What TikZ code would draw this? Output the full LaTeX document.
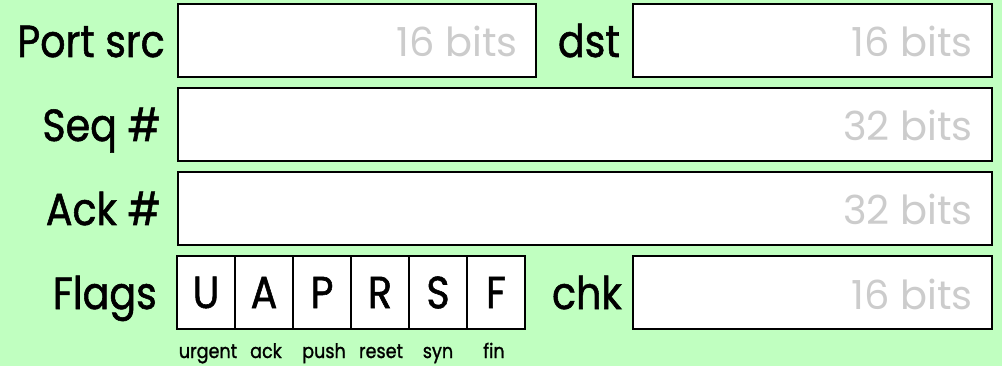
\documentclass[tikz,border=0pt]{standalone}
\usepackage{fontspec}
\setmainfont{Poppins}[FakeStretch=0.88,FakeBold=1.2]
\newfontfamily\bitsfont{Poppins}
\usetikzlibrary{calc}
\definecolor{bggreen}{RGB}{192,255,192}
\definecolor{bitgray}{RGB}{204,204,204}
\begin{document}
\begin{tikzpicture}[x=1pt,y=-1pt,
  field/.style={draw=black, line width=2pt, fill=white, anchor=north west, minimum height=73pt, inner sep=0pt, outer sep=0pt},
  lab/.style={anchor=base east, inner sep=0pt, font=\fontsize{45}{50}\selectfont},
  bits/.style={anchor=base east, inner sep=0pt, text=bitgray, font=\bitsfont\fontsize{40}{48}\selectfont},
  flagcell/.style={draw=black, line width=2pt, fill=white, anchor=north west, minimum width=58pt, minimum height=73pt, inner sep=0pt, outer sep=0pt, font=\fontsize{45}{50}\selectfont},
  sub/.style={anchor=base, inner sep=0pt, font=\fontsize{20}{24}\selectfont}]
\fill[bggreen] (0,0) rectangle (1002,366);
\useasboundingbox (0,0) rectangle (1002,366);
% row 1
\node[field, minimum width=358pt] (src) at (178,4) {};
\node[field, minimum width=359pt] (dst) at (633,4) {};
\node[lab] (lsrc) at ($(src.west)+(-13,16.5)$) {Port src};
\node[lab] (ldst) at ($(dst.west)+(-13,16.5)$) {dst};
\node[bits] (bsrc) at ($(src.east)+(-18,16.5)$) {16 bits};
\node[bits] (bdst) at ($(dst.east)+(-19,16.5)$) {16 bits};
% row 2
\node[field, minimum width=814pt] (seq) at (178,88) {};
\node[lab] (lseq) at ($(seq.west)+(-17,16.5)$) {Seq \#};
\node[bits] (bseq) at ($(seq.east)+(-19,16.5)$) {32 bits};
% row 3
\node[field, minimum width=814pt] (ack) at (178,172) {};
\node[lab] (lack) at ($(ack.west)+(-17,16.5)$) {Ack \#};
\node[bits] (back) at ($(ack.east)+(-19,16.5)$) {32 bits};
% row 4
\node[flagcell] (fu) at (177,256) {U};
\node[flagcell] (fa) at (fu.north east) {A};
\node[flagcell] (fp) at (fa.north east) {P};
\node[flagcell] (fr) at (fp.north east) {R};
\node[flagcell] (fs) at (fr.north east) {S};
\node[flagcell] (ff) at (fs.north east) {F};
\node[lab] (lflags) at ($(fu.west)+(-20,16.5)$) {Flags};
\node[field, minimum width=359pt] (chk) at (633,256) {};
\node[lab] (lchk) at ($(chk.west)+(-11,16.5)$) {chk};
\node[bits] (bchk) at ($(chk.east)+(-19,16.5)$) {16 bits};
% flag names
\node[sub] (su) at ($(fu.south)+(2,29)$) {urgent};
\node[sub] (sa) at ($(fa.south)+(2,29)$) {ack};
\node[sub] (sp) at ($(fp.south)+(2,29)$) {push};
\node[sub] (sr) at ($(fr.south)+(1,29)$) {reset};
\node[sub] (ss) at ($(fs.south)+(0,29)$) {syn};
\node[sub] (sf) at ($(ff.south)+(-2,29)$) {fin};
\end{tikzpicture}
\end{document}
